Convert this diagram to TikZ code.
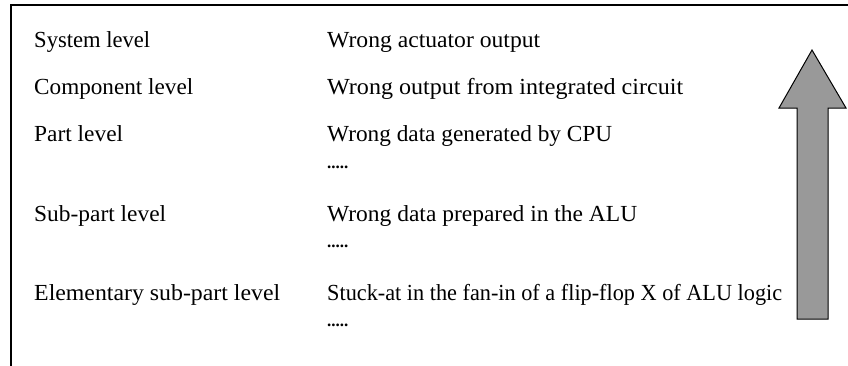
\documentclass[tikz,border=0pt]{standalone}
\usepackage{fontspec}
\setmainfont{Liberation Serif}
\newcommand{\fitw}[2]{\resizebox{#1pt}{\height}{#2}}
\begin{document}
\begin{tikzpicture}[x=1pt,y=-1pt,
  lbl/.style={anchor=base west,inner sep=0pt,font=\fontsize{23}{26}\selectfont},
  dots/.style={anchor=base west,inner sep=0pt,font=\fontsize{17}{19}\selectfont\bfseries},
  frame/.style={line width=2pt,line cap=rect},
  bigarrow/.style={fill=arrowgray,draw=black,line width=1pt,line join=miter}]
\definecolor{arrowgray}{RGB}{153,153,153}
\useasboundingbox (0,0) rectangle (848,365);
\draw[frame] (11,370) -- (11,5) -- (855,5);
% left column
\node[lbl] (l1) at (34,47) {\fitw{116}{System level}};
\node[lbl] (l2) at (34,94) {\fitw{159}{Component level}};
\node[lbl] (l3) at (34,141) {\fitw{89}{Part level}};
\node[lbl] (l4) at (34,221) {\fitw{132}{Sub-part level}};
\node[lbl] (l5) at (34,300) {\fitw{246}{Elementary sub-part level}};
% right column
\node[lbl] (r1) at (327,47) {\fitw{213}{Wrong actuator output}};
\node[lbl] (r2) at (327,94) {\fitw{356}{Wrong output from integrated circuit}};
\node[lbl] (r3) at (327,141) {\fitw{285}{Wrong data generated by CPU}};
\node[dots] (d3) at (327,168) {.....};
\node[lbl] (r4) at (327,221) {\fitw{310}{Wrong data prepared in the ALU}};
\node[dots] (d4) at (327,247) {.....};
\node[lbl] (r5) at (327,300) {\fitw{455}{Stuck-at in the fan-in of a flip-flop X of ALU logic}};
\node[dots] (d5) at (327,326) {.....};
% arrow
\draw[bigarrow] (812,50) -- (846,108) -- (828,108) -- (828,319) -- (797,319) -- (797,108) -- (779,108) -- cycle;
\end{tikzpicture}
\end{document}
